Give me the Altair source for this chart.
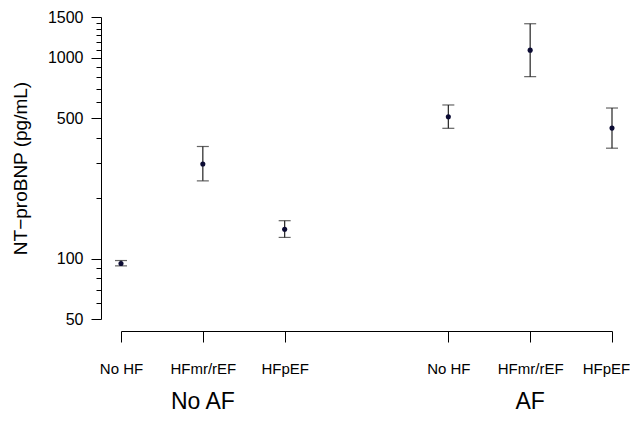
import altair as alt
import pandas as pd

# ---- data ----
af_group = ["No AF", "No AF", "No AF", "AF", "AF", "AF"]
hf_type = ["No HF", "HFmr/rEF", "HFpEF", "No HF", "HFmr/rEF", "HFpEF"]
x_pos = [1, 2, 3, 5, 6, 7]
median = [94.5, 296, 140, 509, 1094, 447]
lower = [92, 244, 127.5, 446, 807, 355]
upper = [97.8, 362, 154.5, 583, 1481, 563]

group_names = ["No AF", "AF"]
group_pos = [2, 6]

major_ticks = [50, 100, 500, 1000, 1600]
minor_ticks = [60, 70, 80, 90, 200, 300, 400, 600, 700, 800, 900,
               1100, 1200, 1300, 1400, 1500]

df = pd.DataFrame({"group": af_group, "hf": hf_type, "x": x_pos,
                   "median": median, "lower": lower, "upper": upper})
gdf = pd.DataFrame({"x": group_pos, "label": group_names})

FONT = "Liberation Sans"
xlabel_expr = ("datum.value==1||datum.value==5 ? 'No HF' : "
               "(datum.value==2||datum.value==6 ? 'HFmr/rEF' : 'HFpEF')")

xscale = alt.Scale(domain=[1, 7], nice=False, zero=False)
yscale = alt.Scale(type="log", domain=[50, 1600], nice=False)

all_ticks = sorted(major_ticks + minor_ticks)
major_test = "indexof(" + str(major_ticks) + ", datum.value) >= 0"

xaxis = alt.Axis(values=x_pos, labelExpr=xlabel_expr, title=None,
                 grid=False, domainColor="#000", tickColor="#000",
                 tickSize=11, offset=12, labelPadding=19, labelFlush=False,
                 labelOffset={"condition": {"test": "datum.value == 7", "value": -6}, "value": 0},
                 labelFont=FONT, labelFontSize=15, labelColor="#000",
                 domainWidth=1, tickWidth=1)
yaxis = alt.Axis(values=all_ticks, grid=False, labelFlush=False,
                 labelExpr="datum.value==1600 ? '1500' : (" + major_test + " ? format(datum.value, 'd') : '')",
                 tickSize={"condition": {"test": major_test, "value": 10}, "value": 5},
                 offset=20, labelPadding=8, domainColor="#000", tickColor="#000",
                 labelFont=FONT, labelFontSize=16, labelColor="#000",
                 title="NT\u2212proBNP (pg/mL)", titleFont=FONT, titleFontSize=19,
                 titleFontWeight="normal", titleColor="#000", titlePadding=17,
                 domainWidth=1, tickWidth=1)

base = alt.Chart(df)

bars = base.mark_rule(color="#222", strokeWidth=1.2).encode(
    x=alt.X("x:Q", scale=xscale, axis=xaxis),
    y=alt.Y("lower:Q", scale=yscale, axis=yaxis),
    y2="upper:Q",
)
caps_lo = base.mark_tick(color="#222", size=12, thickness=1.2, orient="horizontal").encode(
    x="x:Q", y="lower:Q")
caps_hi = base.mark_tick(color="#222", size=12, thickness=1.2, orient="horizontal").encode(
    x="x:Q", y="upper:Q")
pts = base.mark_circle(color="#0b0b33", opacity=1, size=26).encode(
    x="x:Q", y="median:Q")
groups = alt.Chart(gdf).mark_text(font=FONT, fontSize=23, color="#000",
                                  baseline="middle").encode(
    x="x:Q", y=alt.value(385), text="label:N")

chart = alt.layer(bars, caps_lo, caps_hi, pts, groups).properties(
    width=491, height=302,
    autosize="none",
    padding={"left": 113, "top": 9, "right": 18, "bottom": 104},
).configure(background="white").configure_view(stroke=None, strokeWidth=0)

chart.save("out.html", embed_options={"renderer": "svg", "actions": False})
